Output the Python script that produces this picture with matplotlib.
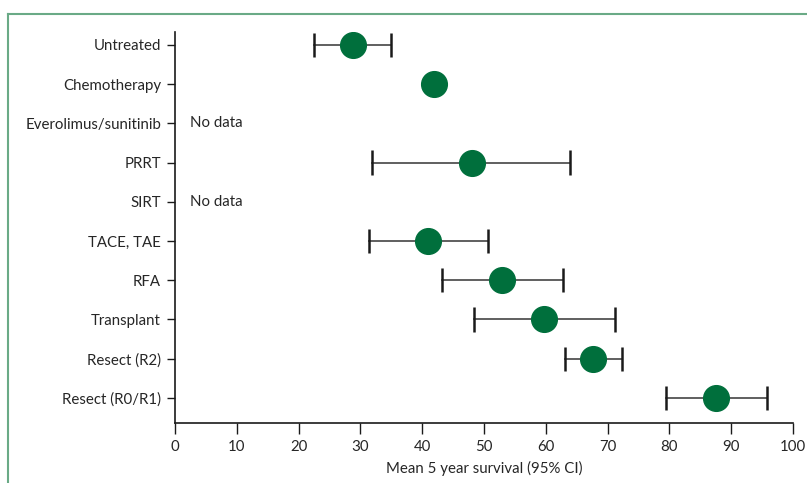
import matplotlib
matplotlib.use("Agg")
import matplotlib.pyplot as plt
from matplotlib.lines import Line2D
import numpy as np

categories = ["Untreated", "Chemotherapy", "Everolimus/sunitinib", "PRRT", "SIRT",
              "TACE, TAE", "RFA", "Transplant", "Resect (R2)", "Resect (R0/R1)"]
means = [28.8, 41.9, None, 48.1, None, 40.9, 52.9, 59.7, 67.6, 87.5]
ci_low = [22.5, None, None, 31.9, None, 31.4, 43.2, 48.4, 63.1, 79.4]
ci_high = [35.0, None, None, 63.9, None, 50.6, 62.8, 71.2, 72.3, 95.8]
xticks = [0, 10, 20, 30, 40, 50, 60, 70, 80, 90, 100]
xlabel = "Mean 5 year survival (95% CI)"
nodata_label = "No data"

W, H = 807, 483
fig = plt.figure(figsize=(W / 100, H / 100), dpi=100)
plt.rcParams['font.family'] = ['Lato', 'DejaVu Sans']
FS = 10.8

# axes placement in pixels
x0, x1 = 175, 793
ytop, ybot = 32, 423
ax = fig.add_axes([x0 / W, 1 - ybot / H, (x1 - x0) / W, (ybot - ytop) / H])

green = "#006f3c"
n = len(categories)
ys = np.arange(n)
for i, y in enumerate(ys):
    m = means[i]
    if m is None:
        ax.text(2.4, y, nodata_label, va="center", ha="left", fontsize=FS, color="#262626")
        continue
    if ci_low[i] is not None:
        ax.plot([ci_low[i], ci_high[i]], [y, y], color="#444444", lw=1.2, zorder=1)
        for c in (ci_low[i], ci_high[i]):
            ax.plot([c, c], [y - 0.31, y + 0.31], color="#1a1a1a", lw=1.8, zorder=1,
                    solid_capstyle="butt")
    ax.plot([m], [y], "o", ms=18.5, color=green, mec=green, zorder=3)

ax.set_ylim(n - 1 + 0.64, -0.33)
ax.set_xlim(0, 100)
ax.set_yticks(ys)
ax.set_yticklabels(categories, fontsize=FS, color="#262626")
ax.set_xticks(xticks)
ax.set_xticklabels([str(t) for t in xticks], fontsize=FS, color="#262626")
ax.set_xlabel(xlabel, fontsize=FS, color="#262626", labelpad=5)
for s in ("top", "right"):
    ax.spines[s].set_visible(False)
for s in ("left", "bottom"):
    ax.spines[s].set_linewidth(1.2)
    ax.spines[s].set_color("#1a1a1a")
ax.tick_params(axis="y", length=6, width=1.0, pad=4, color="#1a1a1a")
ax.tick_params(axis="x", length=8, width=1.0, pad=4, color="#1a1a1a")

# decorative frame lines (top and left)
fig.add_artist(Line2D([8 / W, 1], [1 - 14 / H, 1 - 14 / H], transform=fig.transFigure,
                      color="#6aaa86", lw=1.5))
fig.add_artist(Line2D([8 / W, 8 / W], [1 - 14 / H, 0], transform=fig.transFigure,
                      color="#6aaa86", lw=1.5))

fig.savefig("out.png", dpi=100)
